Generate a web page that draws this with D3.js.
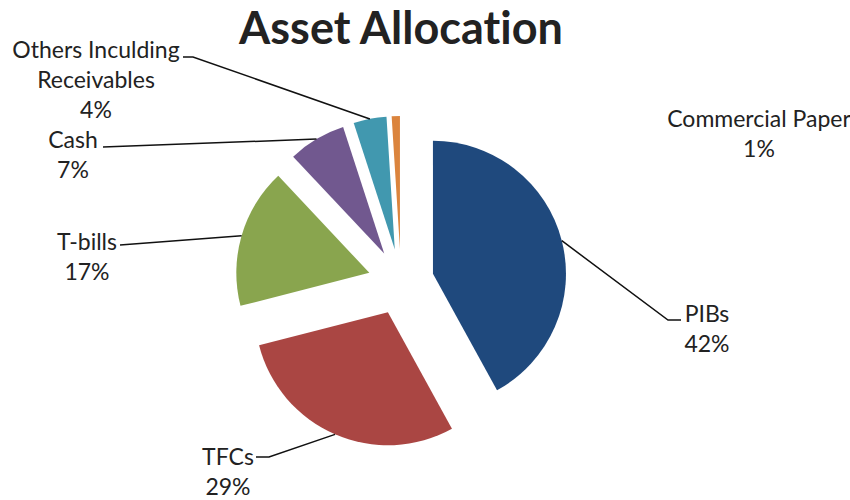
<!DOCTYPE html>
<html>
<head>
<meta charset="utf-8">
<script src="https://cdn.jsdelivr.net/npm/d3@7"></script>
<style>
    html, body { margin: 0; padding: 0; background: #fff; }
    svg { display: block; font-family: Lato, "Open Sans", sans-serif; font-variant-ligatures: none; }
</style>
</head>
<body>
<svg id="chart" width="850" height="500"></svg>
<script>
// ============================================================================
// ASSET ALLOCATION - exploded pie with leader lines
// ============================================================================

const categories = ['PIBs', 'TFCs', 'T-bills', 'Cash', 'Others Inculding Receivables', 'Commercial Paper'];
const shares = [42, 29, 17, 7, 4, 1];
const percentLabels = ['42%', '29%', '17%', '7%', '4%', '1%'];
const colors = ['#1F497D', '#AA4643', '#89A54E', '#71588F', '#4198AF', '#DB843D'];

// label layout (text lines, anchor where the leader line ends)
const labelLayout = {
    'PIBs': { lines: ['PIBs'], x: 707, y: 314, elbow: [[681, 320], [668, 320]] },
    'TFCs': { lines: ['TFCs'], x: 228, y: 457, elbow: [[256, 457], [269, 457]] },
    'T-bills': { lines: ['T-bills'], x: 87, y: 242, elbow: [[120, 245]] },
    'Cash': { lines: ['Cash'], x: 73, y: 140, elbow: [[103, 147]] },
    'Others Inculding Receivables': { lines: ['Others Inculding', 'Receivables'], x: 96, y: 50, elbow: [[183, 57], [193, 57]] },
    'Commercial Paper': { lines: ['Commercial Paper'], x: 759, y: 119, elbow: null }
};

const svg = d3.select('#chart');
const cx = 401, cy = 282;
const radius = 133;
const explode = 33;
const lineGap = 30;

svg.append('text')
    .attr('x', 401)
    .attr('y', 44)
    .attr('text-anchor', 'middle')
    .attr('font-size', 45)
    .attr('font-weight', 'bold')
    .attr('fill', '#222')
    .text('Asset Allocation');

const pie = d3.pie().sort(null).value(d => d.value);
const arcs = pie(categories.map((c, i) => ({ name: c, value: shares[i], pct: percentLabels[i], color: colors[i] })));
const arcGen = d3.arc().innerRadius(0).outerRadius(radius);

const g = svg.append('g').attr('transform', `translate(${cx},${cy})`);

// Slices, each pushed out along its mid angle
arcs.forEach(a => {
    const mid = (a.startAngle + a.endAngle) / 2;
    const ox = Math.sin(mid) * explode;
    const oy = -Math.cos(mid) * explode;
    g.append('path')
        .attr('d', arcGen(a))
        .attr('transform', `translate(${ox},${oy})`)
        .attr('fill', a.data.color);

    const lay = labelLayout[a.data.name];
    if (lay.elbow) {
        const r = explode + radius;
        const start = [cx + Math.sin(mid) * r, cy - Math.cos(mid) * r];
        const pts = [start].concat(lay.elbow.slice().reverse());
        svg.append('path')
            .attr('d', d3.line()(pts))
            .attr('fill', 'none')
            .attr('stroke', '#111')
            .attr('stroke-width', 1.5);
    }

    svg.append('g').selectAll('text')
        .data(lay.lines.concat([a.data.pct]))
        .join('text')
        .attr('x', lay.x)
        .attr('y', (d, i) => lay.y + i * lineGap)
        .attr('dy', '0.35em')
        .attr('text-anchor', 'middle')
        .attr('font-size', 23)
        .attr('fill', '#222')
        .text(d => d);
});
</script>
</body>
</html>
